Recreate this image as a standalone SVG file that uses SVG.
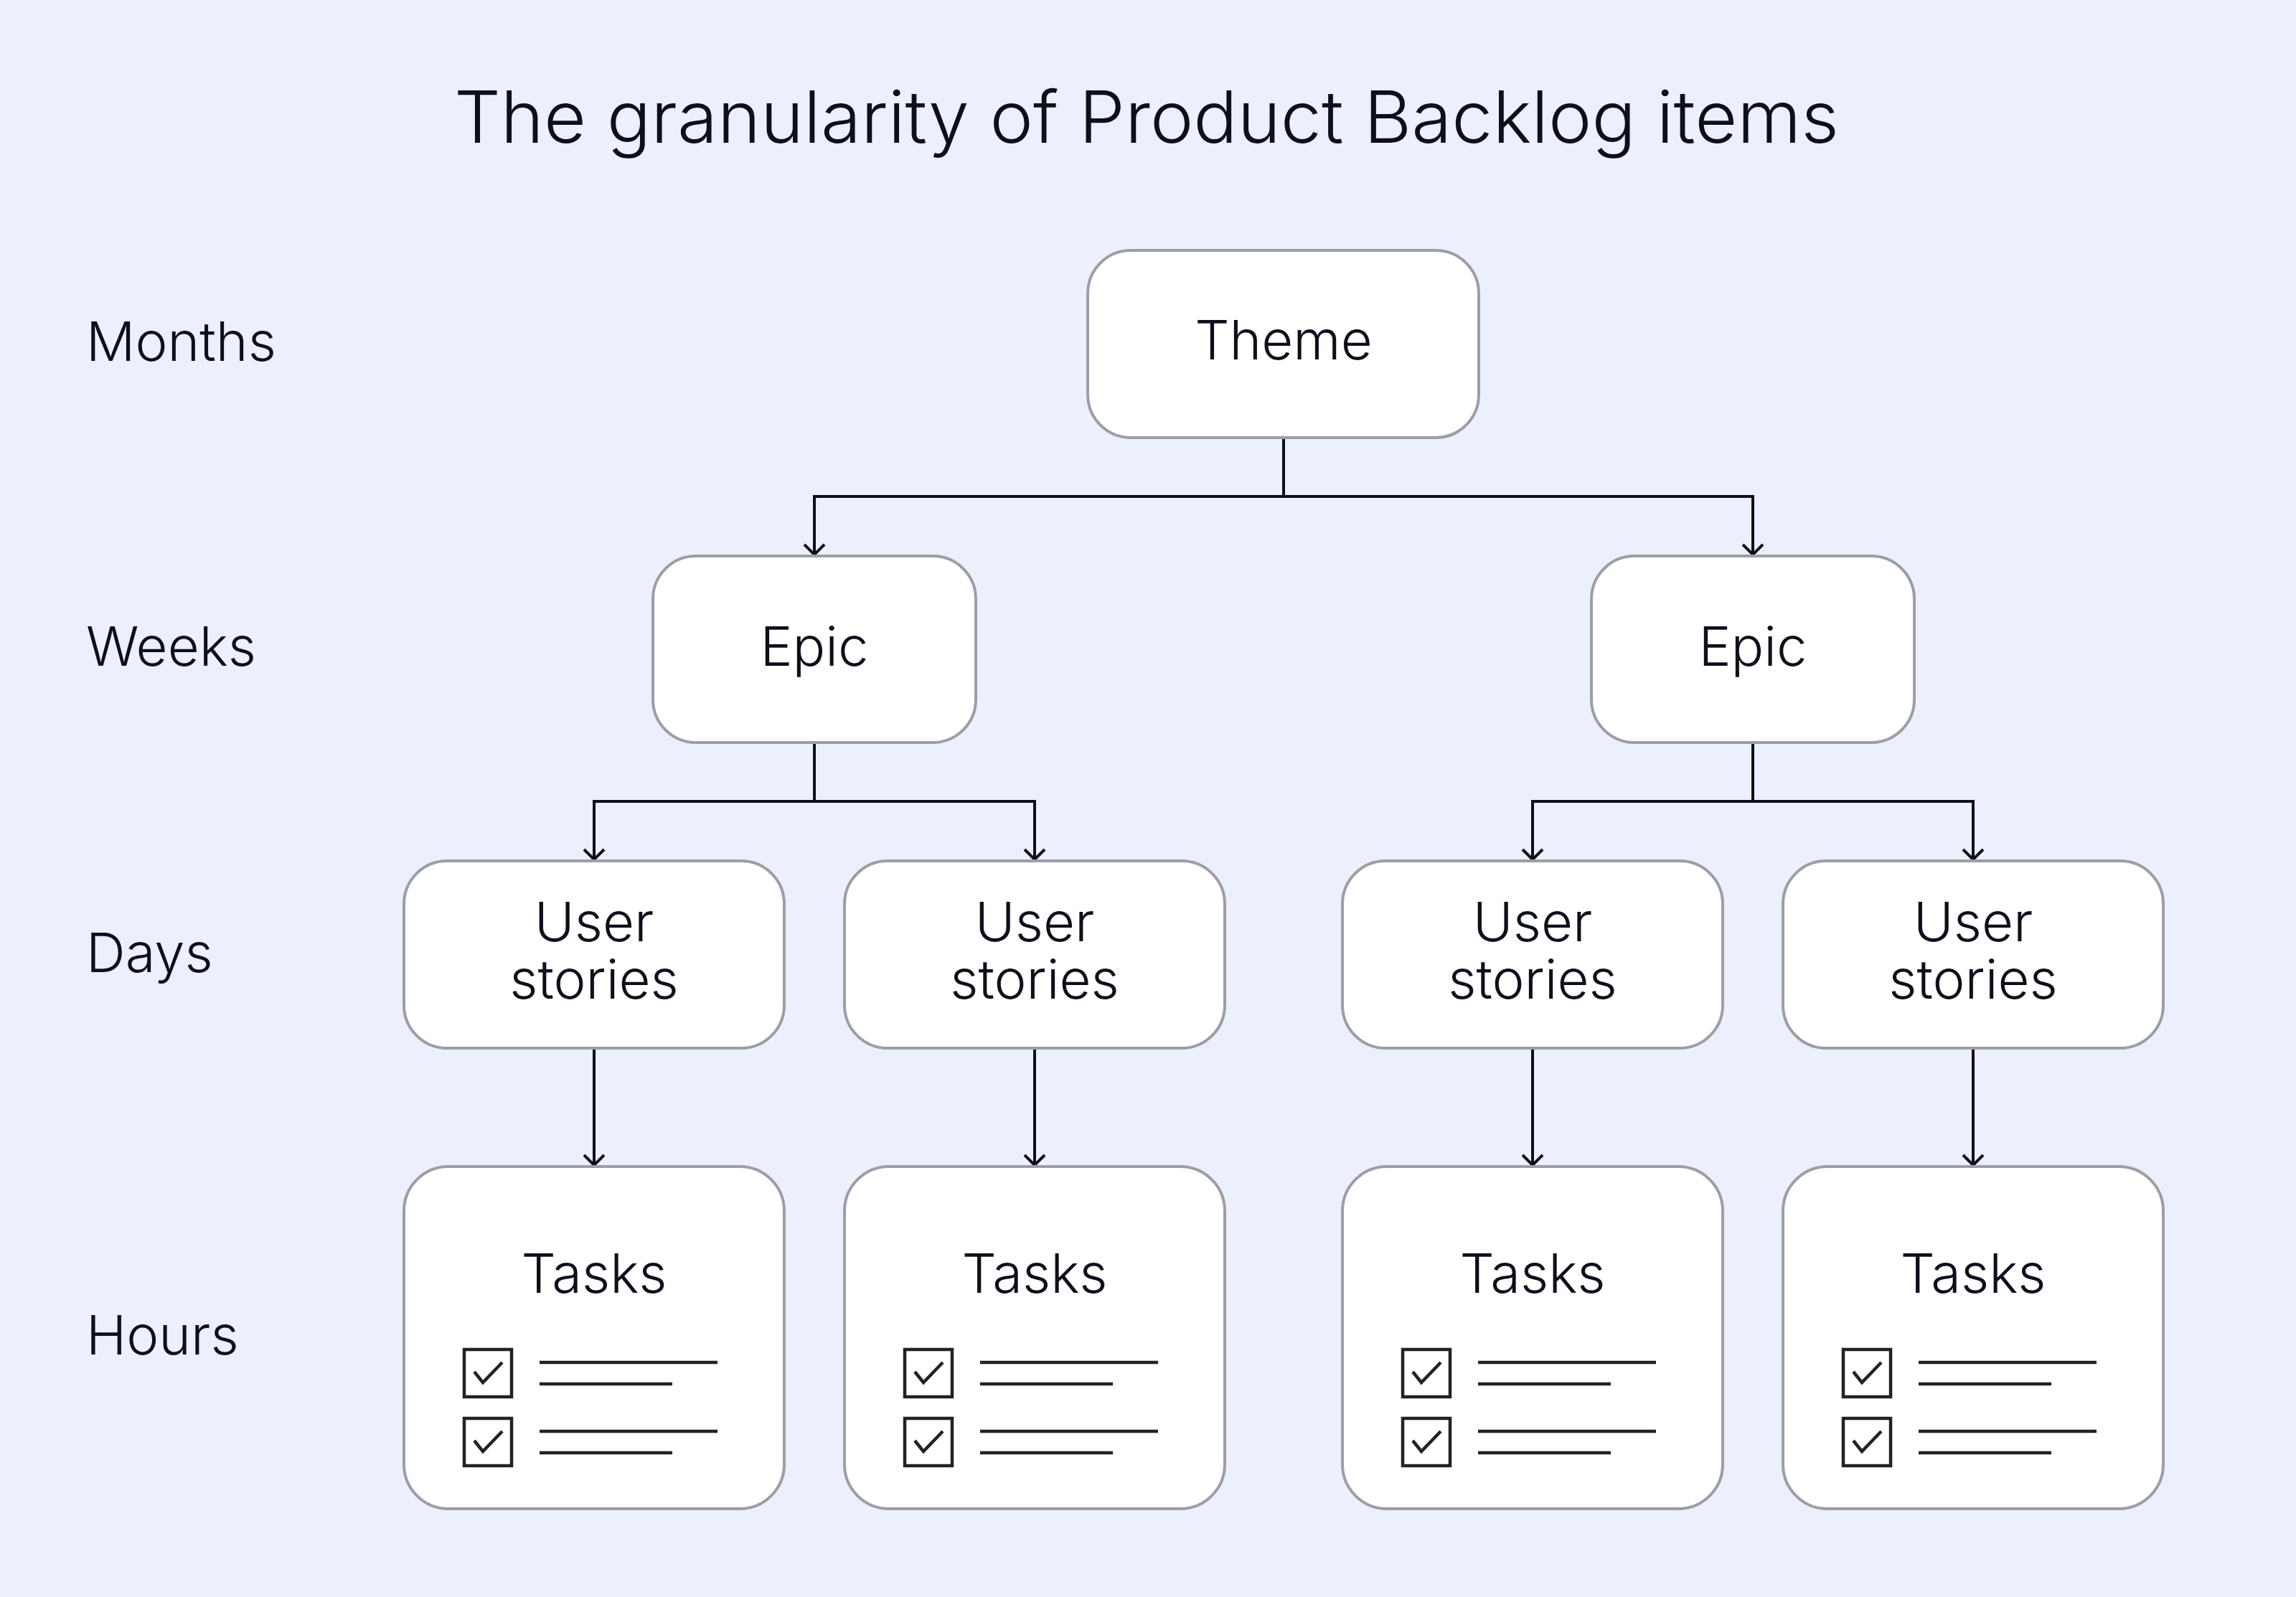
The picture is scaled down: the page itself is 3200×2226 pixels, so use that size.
<svg xmlns="http://www.w3.org/2000/svg" width="3200" height="2226" viewBox="0 0 3200 2226">
<defs>
<style>
.bg{fill:#ECF0FD}
.box{fill:#FFFFFF;stroke:#9C9EA6;stroke-width:4}
.t{font-family:Inter,"Liberation Sans",sans-serif;fill:#0D0F1A;font-size:76px;font-weight:350}
.c{text-anchor:middle}
.title{font-size:100px}
.conn{fill:none;stroke:#0D0F1A;stroke-width:4}
.icon{fill:none;stroke:#222222;stroke-width:4.5}
</style>
<marker id="arr" viewBox="-18 -18 20 36" markerWidth="20" markerHeight="36" refX="0" refY="0" markerUnits="userSpaceOnUse" orient="auto" overflow="visible">
<path d="M-14,-14 L0,0 L-14,14" fill="none" stroke="#0D0F1A" stroke-width="4"/>
</marker>
<g id="checklist">
<rect x="-181" y="0" width="66" height="66" class="icon"/>
<polyline points="-167,31 -155,46 -128,18" class="icon"/>
<line x1="-76" y1="18" x2="172" y2="18" class="icon"/>
<line x1="-76" y1="48" x2="109" y2="48" class="icon"/>
<rect x="-181" y="96" width="66" height="66" class="icon"/>
<polyline points="-167,127 -155,142 -128,114" class="icon"/>
<line x1="-76" y1="114" x2="172" y2="114" class="icon"/>
<line x1="-76" y1="144" x2="109" y2="144" class="icon"/>
</g>
</defs>
<rect class="bg" x="0" y="0" width="3200" height="2226"/>
<text class="t title c" x="1598" y="199" textLength="1930" lengthAdjust="spacingAndGlyphs">The granularity of Product Backlog items</text>
<g id="labels">
<text class="t" x="120" y="503">Months</text>
<text class="t" x="120" y="928">Weeks</text>
<text class="t" x="120" y="1355">Days</text>
<text class="t" x="120" y="1888">Hours</text>
</g>
<g id="connectors">
<path class="conn" d="M1789,610 V692 H1135 V773" marker-end="url(#arr)"/>
<path class="conn" d="M1789,692 H2443 V773" marker-end="url(#arr)"/>
<path class="conn" d="M1135,1035 V1117 H828 V1198" marker-end="url(#arr)"/>
<path class="conn" d="M1135,1117 H1442 V1198" marker-end="url(#arr)"/>
<path class="conn" d="M2443,1035 V1117 H2136 V1198" marker-end="url(#arr)"/>
<path class="conn" d="M2443,1117 H2750 V1198" marker-end="url(#arr)"/>
<path class="conn" d="M828,1461 V1624" marker-end="url(#arr)"/>
<path class="conn" d="M1442,1461 V1624" marker-end="url(#arr)"/>
<path class="conn" d="M2136,1461 V1624" marker-end="url(#arr)"/>
<path class="conn" d="M2750,1461 V1624" marker-end="url(#arr)"/>
</g>
<g id="theme">
<rect class="box" x="1516" y="349" width="545" height="261" rx="60"/>
<text class="t c" x="1789" y="501">Theme</text>
</g>
<g id="epic1">
<rect class="box" x="910" y="775" width="450" height="260" rx="60"/>
<text class="t c" x="1135" y="928">Epic</text>
</g>
<g id="epic2">
<rect class="box" x="2218" y="775" width="450" height="260" rx="60"/>
<text class="t c" x="2443" y="928">Epic</text>
</g>
<g id="story1">
<rect class="box" x="563" y="1200" width="530" height="261" rx="60"/>
<text class="t c" x="828" y="1312">User</text>
<text class="t c" x="828" y="1392">stories</text>
</g>
<g id="story2">
<rect class="box" x="1177" y="1200" width="530" height="261" rx="60"/>
<text class="t c" x="1442" y="1312">User</text>
<text class="t c" x="1442" y="1392">stories</text>
</g>
<g id="story3">
<rect class="box" x="1871" y="1200" width="530" height="261" rx="60"/>
<text class="t c" x="2136" y="1312">User</text>
<text class="t c" x="2136" y="1392">stories</text>
</g>
<g id="story4">
<rect class="box" x="2485" y="1200" width="530" height="261" rx="60"/>
<text class="t c" x="2750" y="1312">User</text>
<text class="t c" x="2750" y="1392">stories</text>
</g>
<g id="tasks1">
<rect class="box" x="563" y="1626" width="530" height="477" rx="62"/>
<text class="t c" x="828" y="1802">Tasks</text>
<use href="#checklist" x="828" y="1881"/>
</g>
<g id="tasks2">
<rect class="box" x="1177" y="1626" width="530" height="477" rx="62"/>
<text class="t c" x="1442" y="1802">Tasks</text>
<use href="#checklist" x="1442" y="1881"/>
</g>
<g id="tasks3">
<rect class="box" x="1871" y="1626" width="530" height="477" rx="62"/>
<text class="t c" x="2136" y="1802">Tasks</text>
<use href="#checklist" x="2136" y="1881"/>
</g>
<g id="tasks4">
<rect class="box" x="2485" y="1626" width="530" height="477" rx="62"/>
<text class="t c" x="2750" y="1802">Tasks</text>
<use href="#checklist" x="2750" y="1881"/>
</g>
</svg>
